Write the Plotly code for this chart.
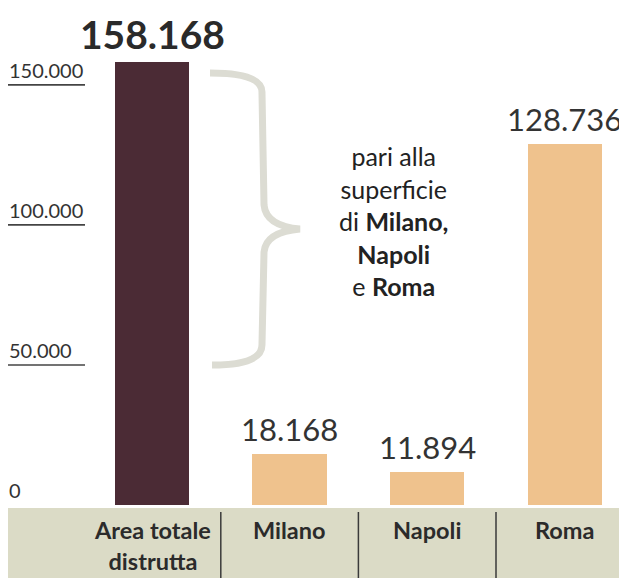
import plotly.graph_objects as go

# ---- data ----
categories = ["Area totale distrutta", "Milano", "Napoli", "Roma"]
cat_labels = ["Area totale<br>distrutta", "Milano", "Napoli", "Roma"]
values = [158168, 18168, 11894, 128736]
value_text = ["158.168", "18.168", "11.894", "128.736"]
bar_colors = ["#4b2b35", "#efc28d", "#efc28d", "#efc28d"]
y_ticks = [0, 50000, 100000, 150000]
y_tick_text = ["0", "50.000", "100.000", "150.000"]
note_text = "pari alla<br>superficie<br>di <b>Milano,</b><br><b>Napoli</b><br>e <b>Roma</b>"

OFF = 8  # page body margin
W, H = 627 - OFF, 578 - OFF
BASE = 505  # baseline in reference px

def px(x):
    return (x - OFF) / W

def py(y):
    return (BASE - y) / (BASE - OFF)

FONT = "Lato, 'Open Sans', sans-serif"

ypx_per_unit = 443 / 158168
y_top = (BASE - OFF) / ypx_per_unit
xpx = 137.6
x_lo = -(152 - OFF) / xpx
x_hi = x_lo + W / xpx

fig = go.Figure()
fig.add_trace(go.Bar(
    x=categories, y=values,
    marker=dict(color=bar_colors, line=dict(width=0)),
    width=0.54,
    hoverinfo="skip",
))

annotations = []
for i, (c, v, t) in enumerate(zip(categories, values, value_text)):
    if i == 0:
        annotations.append(dict(x=c, y=v, xref="x", yref="y", text=f"<b>{t}</b>",
                                showarrow=False, yanchor="bottom", yshift=3,
                                font=dict(family=FONT, size=39, color="#2a2a2a", weight=900)))
    else:
        annotations.append(dict(x=c, y=v, xref="x", yref="y", text=t,
                                showarrow=False, yanchor="bottom", yshift=4,
                                font=dict(family=FONT, size=31, color="#333333", weight=400)))

for c, lab in zip(categories, cat_labels):
    annotations.append(dict(x=c, y=py(514), xref="x", yref="paper", text=f"<b>{lab}</b>",
                            showarrow=False, yanchor="top", align="center",
                            font=dict(family=FONT, size=23.5, color="#2b2b2b", weight=900)))

for v, t in zip(y_ticks, y_tick_text):
    annotations.append(dict(x=px(7), y=v, xref="paper", yref="y", text=t,
                            showarrow=False, xanchor="left", yanchor="bottom", yshift=1,
                            font=dict(family=FONT, size=20, color="#333333", weight=400)))

annotations.append(dict(x=px(393), y=py(221), xref="paper", yref="paper", text=note_text,
                        showarrow=False, xanchor="center", yanchor="middle", align="center",
                        font=dict(family=FONT, size=25, color="#222222")))

shapes = []
shapes.append(dict(type="rect", xref="paper", yref="paper", x0=0, x1=1,
                   y0=py(580), y1=py(508), fillcolor="#dbdbc6", line=dict(width=0), layer="below"))
for i in range(len(categories) - 1):
    shapes.append(dict(type="line", xref="x", yref="paper", x0=i + 0.5, x1=i + 0.5,
                       y0=py(512), y1=py(580), line=dict(color="#3a3a3a", width=1.5)))
for v in y_ticks[1:]:
    shapes.append(dict(type="line", xref="paper", yref="y", x0=px(5), x1=px(85),
                       y0=v, y1=v, line=dict(color="#444444", width=1.6)))

pts = {
    "a": (210, 73), "b": (262, 92), "c": (264, 205), "tip": (300, 229),
    "d": (264, 252), "e": (262, 345), "f": (212, 365),
}
def P(k):
    x, y = pts[k]
    return f"{px(x):.4f},{py(y):.4f}"
brace_path = (
    f"M {P('a')} Q {px(262):.4f},{py(73):.4f} {P('b')} "
    f"L {P('c')} Q {px(266):.4f},{py(226):.4f} {P('tip')} "
    f"Q {px(266):.4f},{py(232):.4f} {P('d')} "
    f"L {P('e')} Q {px(262):.4f},{py(365):.4f} {P('f')}"
)
shapes.append(dict(type="path", xref="paper", yref="paper", path=brace_path,
                   line=dict(color="#dcdcd3", width=7)))

fig.update_layout(
    width=W, height=H,
    margin=dict(l=0, r=0, t=0, b=H - (BASE - OFF)),
    paper_bgcolor="white", plot_bgcolor="white",
    showlegend=False,
    xaxis=dict(range=[x_lo, x_hi], showticklabels=False, showgrid=False, zeroline=False,
               showline=False, ticks="", fixedrange=True),
    yaxis=dict(range=[0, y_top], showticklabels=False, showgrid=False, zeroline=False,
               showline=False, ticks="", fixedrange=True),
    annotations=annotations,
    shapes=shapes,
    bargap=0,
)

fig.write_html("out.html")
